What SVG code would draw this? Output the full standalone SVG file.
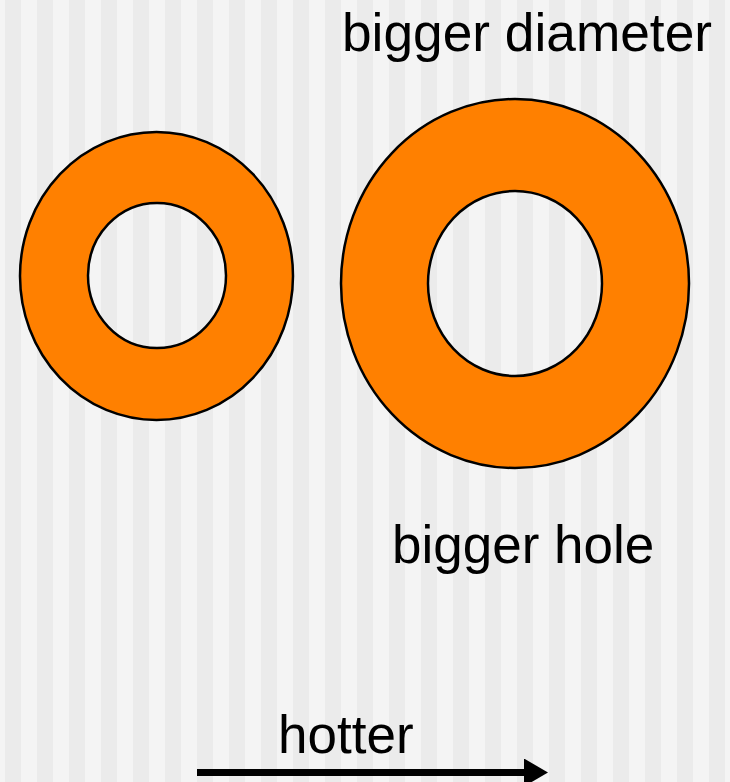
<svg xmlns="http://www.w3.org/2000/svg" width="730" height="782" viewBox="0 0 730 782">
  <defs>
    <pattern id="stripes" x="5" y="0" width="32" height="782" patternUnits="userSpaceOnUse">
      <rect x="0" y="0" width="16" height="782" fill="#ebebeb"/>
      <rect x="16" y="0" width="16" height="782" fill="#f4f4f4"/>
    </pattern>
    <marker id="arrow" viewBox="0 0 24 28" refX="2" refY="14" markerWidth="24" markerHeight="28" markerUnits="userSpaceOnUse" orient="auto">
      <path d="M0,0 L24,14 L0,28 Z" fill="#000"/>
    </marker>
  </defs>
  <style>
    .ring { fill: #ff8000; stroke: #000; stroke-width: 2.5; fill-rule: evenodd; }
    .lbl { font-family: "Liberation Sans", Arial, sans-serif; font-size: 53px; fill: #000; }
  </style>
  <rect x="0" y="0" width="730" height="782" fill="url(#stripes)"/>

  <g id="ring-cold">
    <path class="ring" d="M20,276 a136.5,144 0 1,0 273,0 a136.5,144 0 1,0 -273,0 Z M88,275.5 a69,72.5 0 1,0 138,0 a69,72.5 0 1,0 -138,0 Z"/>
  </g>

  <g id="ring-hot">
    <path class="ring" d="M341,283.5 a174,184.5 0 1,0 348,0 a174,184.5 0 1,0 -348,0 Z M428,283.5 a87,92.5 0 1,0 174,0 a87,92.5 0 1,0 -174,0 Z"/>
  </g>

  <g id="label-diameter">
    <text class="lbl" x="342" y="51" textLength="370" lengthAdjust="spacingAndGlyphs">bigger diameter</text>
  </g>
  <g id="label-hole">
    <text class="lbl" x="392" y="563">bigger hole</text>
  </g>
  <g id="label-hotter">
    <text class="lbl" x="278" y="753">hotter</text>
  </g>

  <g id="connectors">
    <line x1="197" y1="772.5" x2="526" y2="772.5" stroke="#000" stroke-width="7" marker-end="url(#arrow)"/>
  </g>
</svg>
